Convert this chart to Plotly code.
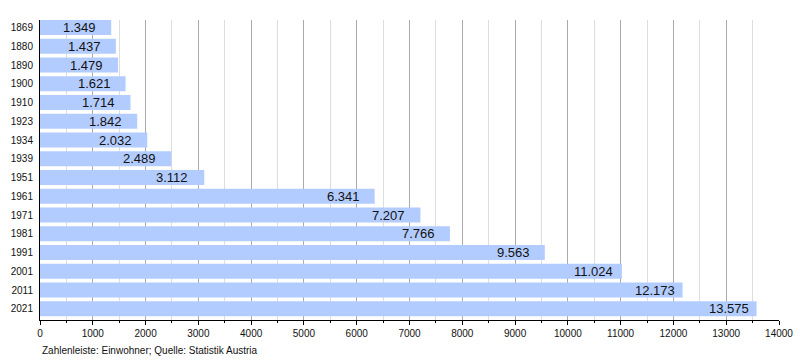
import plotly.graph_objects as go

years = ["1869", "1880", "1890", "1900", "1910", "1923", "1934", "1939", "1951",
         "1961", "1971", "1981", "1991", "2001", "2011", "2021"]
population = [1349, 1437, 1479, 1621, 1714, 1842, 2032, 2489, 3112,
              6341, 7207, 7766, 9563, 11024, 12173, 13575]
labels = [f"{v:,}".replace(",", ".") for v in population]

FONT = "Liberation Sans, Arial, sans-serif"

fig = go.Figure(go.Bar(
    x=population, y=years, orientation="h",
    marker=dict(color="#b3ccff", line=dict(width=0)),
    width=0.8,
    hoverinfo="skip",
))

annotations = []
for i, (v, lab) in enumerate(zip(population, labels)):
    annotations.append(dict(
        x=v, y=i, xref="x", yref="y", text=lab, showarrow=False,
        xanchor="left", yanchor="middle", xshift=-50,
        font=dict(size=13, color="#111111", family=FONT),
    ))
annotations.append(dict(
    text="Zahlenleiste: Einwohner; Quelle: Statistik Austria",
    xref="paper", yref="paper", x=0, y=0, xshift=0, yshift=-30,
    xanchor="left", yanchor="middle", showarrow=False,
    font=dict(size=10, color="#111111", family=FONT),
))

fig.update_layout(
    width=800, height=360,
    margin=dict(l=40, r=21, t=20, b=40, autoexpand=False),
    paper_bgcolor="white", plot_bgcolor="white",
    font=dict(family=FONT, size=10, color="#111111"),
    showlegend=False,
    xaxis=dict(
        range=[0, 14000], dtick=1000, tick0=0, tickformat="d",
        showgrid=True, gridcolor="#aaaaaa", gridwidth=1,
        showline=True, linecolor="black", linewidth=1,
        ticks="outside", ticklen=4, tickcolor="black",
        zeroline=False, fixedrange=True, automargin=False,
        tickfont=dict(size=10),
        minor=dict(dtick=500, showgrid=True, gridcolor="#dddddd", gridwidth=1,
                   ticks="outside", ticklen=2, tickcolor="black"),
    ),
    yaxis=dict(
        type="category", range=[15.6, -0.4],
        showgrid=False, showline=True, linecolor="black", linewidth=1,
        ticks="", ticklabelstandoff=4, automargin=False,
        zeroline=False, fixedrange=True, tickfont=dict(size=10),
    ),
    annotations=annotations,
)

fig.write_html("out.html", config={"displayModeBar": False},
               post_script="document.body.style.margin='0';document.body.style.overflow='hidden';")
